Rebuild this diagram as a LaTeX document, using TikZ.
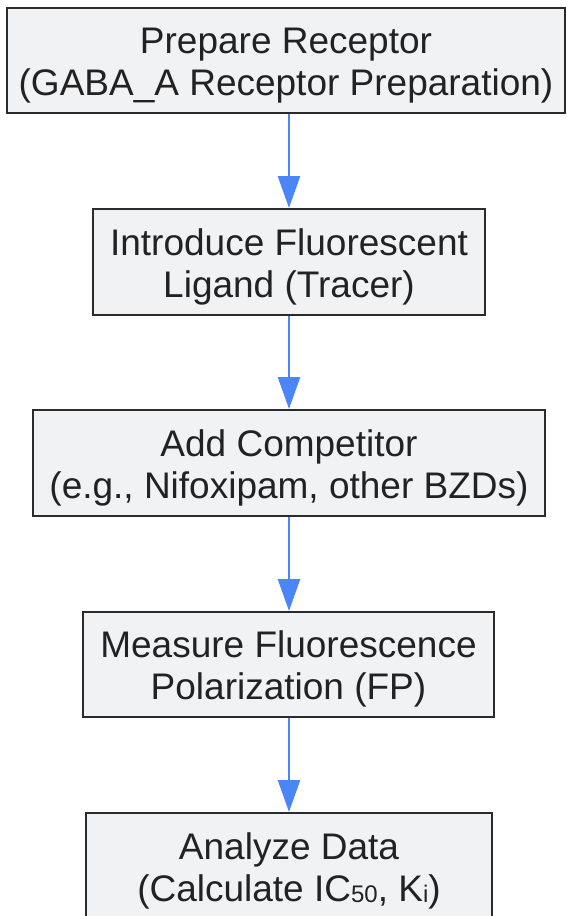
\documentclass[tikz,border=0pt]{standalone}
\usepackage{fontspec}
\setmainfont{Liberation Sans}
\usetikzlibrary{arrows.meta}
\definecolor{boxfill}{HTML}{F1F2F4}
\definecolor{boxline}{HTML}{2B2B2B}
\definecolor{arrowblue}{HTML}{4A86F7}
\definecolor{txt}{HTML}{222222}
\newcommand{\smallsub}[1]{\raisebox{-1.5pt}{\fontsize{24}{24}\selectfont #1}}
\newcommand{\twolines}[2]{\raisebox{-6pt}[\height][\depth]{\begin{tabular}{@{}c@{}}#1\\#2\end{tabular}}}
\begin{document}
\begin{tikzpicture}[x=1pt,y=-1pt,
  stepbox/.style={draw=boxline, line width=2pt, fill=boxfill, text=txt,
    font=\fontsize{37}{42}\selectfont, align=center, inner sep=0pt},
  flow/.style={draw=arrowblue, line width=2.6pt,
    -{Triangle[length=32pt,width=22pt]}, shorten >=0pt}]
\useasboundingbox (0,0) rectangle (566,916);
\begin{scope}
\clip (0,0) rectangle (566,916);
\node[stepbox, minimum width=558pt, minimum height=105pt] (n1) at (286,60.5)
  {\twolines{Prepare Receptor}{(GABA\_A Receptor Preparation)}};
\node[stepbox, minimum width=392pt, minimum height=106pt] (n2) at (289,262)
  {\twolines{Introduce Fluorescent}{Ligand (Tracer)}};
\node[stepbox, minimum width=512pt, minimum height=106pt] (n3) at (289,463)
  {\twolines{Add Competitor}{(e.g., Nifoxipam, other BZDs)}};
\node[stepbox, minimum width=411pt, minimum height=105pt] (n4) at (288.5,664.5)
  {\twolines{Measure Fluorescence}{Polarization (FP)}};
\node[stepbox, minimum width=406pt, minimum height=106pt] (n5) at (289,866)
  {\twolines{Analyze Data}{(Calculate IC\smallsub{50}, K\smallsub{i})}};
\draw[flow] (n1.south -| n2.north) -- (n2.north);
\draw[flow] (n2.south) -- (n3.north -| n2.south);
\draw[flow] (n3.south -| n2.south) -- (n4.north -| n2.south);
\draw[flow] (n4.south -| n2.south) -- (n5.north -| n2.south);
\end{scope}
\end{tikzpicture}
\end{document}
